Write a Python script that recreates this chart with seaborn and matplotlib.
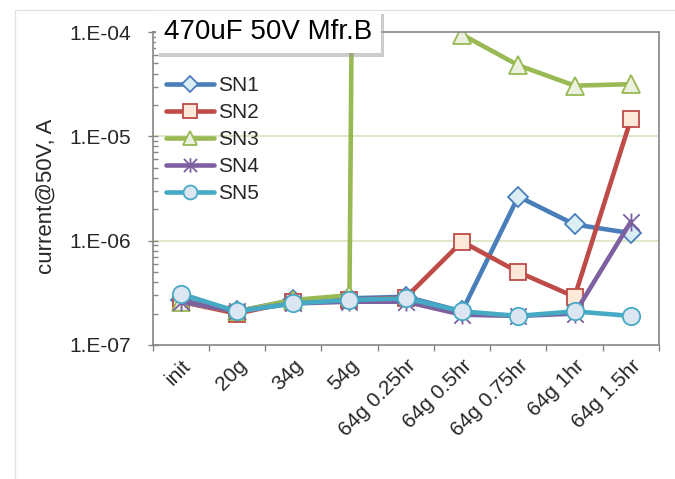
import numpy as np
import pandas as pd
import matplotlib
matplotlib.use("Agg")
import matplotlib.pyplot as plt
import matplotlib.ticker as mticker
import matplotlib.patheffects as pe
from matplotlib.patches import Rectangle
from matplotlib.path import Path
import seaborn as sns

sns.set_style("white")
plt.rcParams["font.family"] = ["Liberation Sans", "DejaVu Sans"]

categories = ["init", "20g", "34g", "54g", "64g 0.25hr", "64g 0.5hr",
              "64g 0.75hr", "64g 1hr", "64g 1.5hr"]
sn1 = [2.7e-7, 2.1e-7, 2.7e-7, 2.8e-7, 2.9e-7, 2.1e-7, 2.65e-6, 1.43e-6, 1.18e-6]
sn2 = [2.6e-7, 2.0e-7, 2.6e-7, 2.7e-7, 2.85e-7, 9.8e-7, 5.0e-7, 2.9e-7, 1.46e-5]
# SN3 at 64g 0.25hr is far off scale (line leaves the chart vertically)
sn3 = [2.6e-7, 2.1e-7, 2.7e-7, 3.0e-7, 1e60, 9.45e-5, 4.8e-5, 3.06e-5, 3.16e-5]
sn4 = [2.6e-7, 2.1e-7, 2.5e-7, 2.6e-7, 2.6e-7, 1.95e-7, 1.9e-7, 2.0e-7, 1.52e-6]
sn5 = [3.1e-7, 2.1e-7, 2.5e-7, 2.7e-7, 2.8e-7, 2.1e-7, 1.9e-7, 2.1e-7, 1.9e-7]
series_names = ["SN1", "SN2", "SN3", "SN4", "SN5"]

# excel-like "star" marker: an X plus a vertical stroke
star = Path([(-1, -1), (1, 1), (-1, 1), (1, -1), (0, -1.1), (0, 1.1)],
            [Path.MOVETO, Path.LINETO, Path.MOVETO, Path.LINETO, Path.MOVETO, Path.LINETO])

styles = {
    "SN1": dict(color="#4a7ebb", marker="D", ms=10, mfc="#dbeef4", mec="#4a7ebb"),
    "SN2": dict(color="#be4b48", marker="s", ms=12, mfc="#fde9d9", mec="#be4b48"),
    "SN3": dict(color="#98b954", marker="^", ms=13, mfc="#ebf1de", mec="#98b954"),
    "SN4": dict(color="#7d60a0", marker=star, ms=13, mfc="#7d60a0", mec="#7d60a0"),
    "SN5": dict(color="#46aac5", marker="o", ms=12.5, mfc="#dce6f2", mec="#46aac5"),
}

df = pd.DataFrame({"pos": np.arange(len(categories)),
                   "SN1": sn1, "SN2": sn2, "SN3": sn3, "SN4": sn4, "SN5": sn5})

fig = plt.figure(figsize=(6.75, 4.79), dpi=100)
ax = fig.add_axes([152.5 / 675, 1 - 345 / 479, 506.5 / 675, 313 / 479])
ax.set_yscale("log")

for name in series_names:
    st = styles[name]
    sns.lineplot(data=df, x="pos", y=name, ax=ax, label=name, errorbar=None,
                 color=st["color"], marker=st["marker"], markersize=st["ms"],
                 markerfacecolor=st["mfc"], markeredgecolor=st["mec"],
                 markeredgewidth=1.3, linewidth=3.3)

ax.set_ylim(1e-7, 1e-4)
ax.set_xlim(-0.5, len(categories) - 0.5)

ax.yaxis.set_major_locator(mticker.LogLocator(base=10, numticks=10))
ax.yaxis.set_minor_locator(mticker.LogLocator(base=10, subs=np.arange(2, 10), numticks=10))
ax.yaxis.set_major_formatter(mticker.FuncFormatter(
    lambda v, p: "1.E%+03d" % int(round(np.log10(v)))))
ax.yaxis.set_minor_formatter(mticker.NullFormatter())
ax.tick_params(axis="y", which="major", direction="inout", length=7, width=1,
               color="#868686", labelsize=15, pad=12)
ax.tick_params(axis="y", which="minor", direction="in", length=3.5, width=1,
               color="#868686")
ax.tick_params(axis="y", left=True, which="both")

ax.set_xticks(np.arange(len(categories)))
ax.set_xticklabels(categories, rotation=45, ha="right", rotation_mode="anchor")
ax.set_xticks(np.arange(-0.5, len(categories)), minor=True)
ax.tick_params(axis="x", which="major", length=0, labelsize=15, pad=8)
ax.tick_params(axis="x", which="minor", direction="out", length=4, width=1,
               color="#868686", bottom=True)

ax.grid(False)
for y in ax.get_yticks():
    if 1e-7 < y < 1e-4:
        ax.axhline(y, color="#d7e4bd", lw=1.2, zorder=0)

for sp in ax.spines.values():
    sp.set_color("#868686")
    sp.set_linewidth(1.2)

ax.set_xlabel("")
ax.set_ylabel("current@50V, A", fontsize=16)
ax.yaxis.set_label_coords(-0.19, 0.476)

leg = ax.legend(loc="upper left", bbox_to_anchor=(0.027, 0.858), frameon=False,
                fontsize=15, handlelength=2.3, handletextpad=0.2,
                labelspacing=0.38, borderaxespad=0, borderpad=0, markerscale=0.8)

# box label with a soft shadow
label = fig.text(164 / 675, 1 - 39 / 479, "470uF 50V Mfr.B", fontsize=20, color="black",
                 bbox=dict(boxstyle="square,pad=0.3", fc="white", ec="none"), zorder=11)
label.get_bbox_patch().set_path_effects(
    [pe.SimplePatchShadow(offset=(2.5, -2.5), shadow_rgbFace="#9a9a9a", alpha=0.5), pe.Normal()])

fig.patches.append(Rectangle((15 / 675, -0.1), 1.2, 1.1 - 10 / 479,
                             transform=fig.transFigure, fill=False,
                             ec="#e3e3e3", lw=1, zorder=0))

fig.savefig("out.png", dpi=100)
